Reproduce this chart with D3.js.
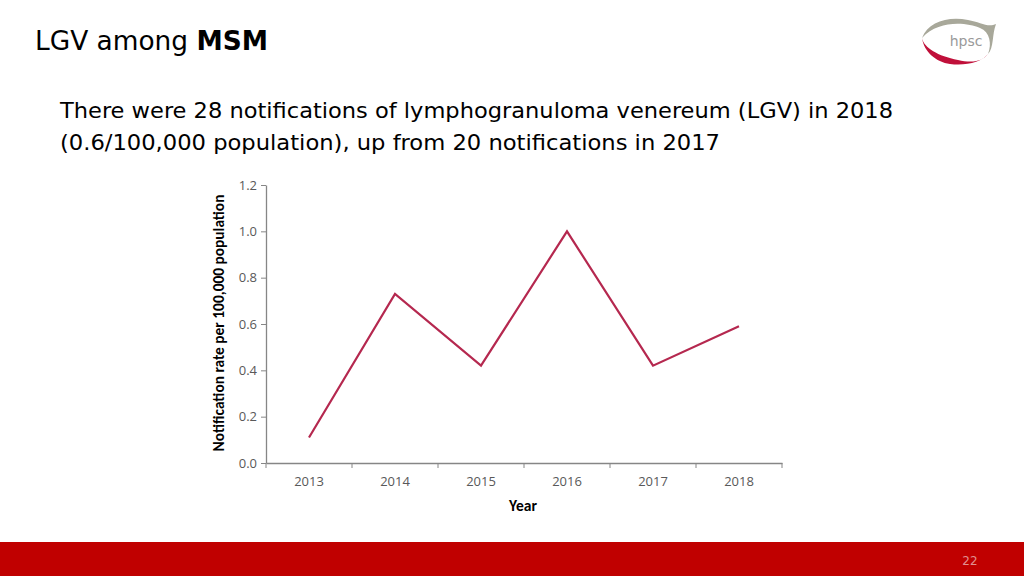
<!DOCTYPE html>
<html><head><meta charset="utf-8">
<script src="https://cdn.jsdelivr.net/npm/d3@7"></script>
<style>body{margin:0;background:#fff}svg{display:block}</style>
</head><body>
<svg id="c" width="1024" height="576"></svg>
<script>
const years = ["2013","2014","2015","2016","2017","2018"];
const rates = [0.11, 0.73, 0.42, 1.0, 0.42, 0.59];
const yTicks = [0, 0.2, 0.4, 0.6, 0.8, 1.0, 1.2];
const titleParts = ["LGV among ", "MSM"];
const subtitleLines = ["There were 28 notifications of lymphogranuloma venereum (LGV) in 2018",
                       "(0.6/100,000 population), up from 20 notifications in 2017"];
const yTitle = "Notification rate per 100,000 population";
const xTitle = "Year";
const pageNum = "22";

const svg = d3.select("#c");
const W = 1024, H = 576;

// title
const t = svg.append("text").attr("x", 35).attr("y", 50)
  .attr("font-family", "DejaVu Sans Condensed, DejaVu Sans, sans-serif").attr("font-size", 26).attr("fill", "#000");
t.append("tspan").text(titleParts[0]);
t.append("tspan").attr("font-weight", "bold").text(titleParts[1]);
t.attr("textLength", 233).attr("lengthAdjust", "spacingAndGlyphs");

// subtitle
const subW = [833, 660];
subtitleLines.forEach((s, i) => {
  svg.append("text").attr("x", 60).attr("y", 118 + i * 32)
    .attr("font-family", "DejaVu Sans Condensed, DejaVu Sans, sans-serif").attr("font-size", 22)
    .attr("fill", "#000").attr("textLength", subW[i]).attr("lengthAdjust", "spacingAndGlyphs").text(s);
});

// chart
const x = d3.scaleBand().domain(years).range([266, 782]);
const y = d3.scaleLinear().domain([0, 1.2]).range([463, 185]);
const axisColor = "#868686", labelColor = "#595959";
const font = "Carlito, Lato, 'Open Sans', sans-serif";
const tickFont = "'Open Sans', sans-serif";

const ya = svg.append("g").attr("transform", "translate(266,0)")
  .call(d3.axisLeft(y).tickValues(yTicks).tickFormat(d3.format(".1f")).tickSize(5).tickSizeOuter(0));
const xa = svg.append("g").attr("transform", "translate(0,463)")
  .call(d3.axisBottom(x).tickSize(0).tickSizeOuter(0).tickPadding(14));
// x boundary ticks
xa.selectAll(".bt").data(years.concat(["end"])).enter().append("line")
  .attr("x1", (d,i) => 266 + i * x.bandwidth()).attr("x2", (d,i) => 266 + i * x.bandwidth())
  .attr("y1", 0).attr("y2", 5).attr("stroke", axisColor);
[ya, xa].forEach(g => {
  g.selectAll("path.domain").attr("stroke", axisColor).attr("stroke-width", 1.3);
  g.selectAll(".tick line").attr("stroke", axisColor);
  g.selectAll("text").attr("fill", labelColor).attr("font-family", tickFont).attr("font-size", 13);
});
ya.selectAll("text").attr("dx", -1);

// line
const line = d3.line().x((d, i) => x(years[i]) + x.bandwidth() / 2).y(d => y(d));
svg.append("path").datum(rates).attr("d", line).attr("fill", "none")
  .attr("stroke", "#b5284f").attr("stroke-width", 2.2).attr("stroke-linejoin", "miter");

// axis titles
svg.append("text").attr("transform", "translate(224,323) rotate(-90)").attr("text-anchor", "middle")
  .attr("font-family", font).attr("font-size", 15.4).attr("font-weight", "bold").attr("fill", "#000").text(yTitle);
svg.append("text").attr("x", 523).attr("y", 511).attr("text-anchor", "middle")
  .attr("font-family", font).attr("font-size", 15.5).attr("font-weight", "bold").attr("fill", "#000").text(xTitle);

// bottom bar
svg.append("rect").attr("x", 0).attr("y", 542).attr("width", W).attr("height", H - 542).attr("fill", "#c00000");
svg.append("text").attr("x", 970).attr("y", 565).attr("text-anchor", "middle")
  .attr("font-family", "DejaVu Sans, sans-serif").attr("font-size", 12).attr("fill", "#e09090").text(pageNum);

// logo
const lg = svg.append("g").attr("transform", "translate(958,40)");
lg.append("path").attr("d", "M-36,-2 C-30,-18 -10,-24 10,-20 C22,-18 30,-12 38,-16 C34,-6 36,8 30,14 C34,4 32,-8 22,-12 C8,-18 -20,-20 -36,-2 Z")
  .attr("fill", "#a8a89a");
lg.append("path").attr("d", "M-36,-2 C-34,8 -20,16 0,20 C16,24 26,20 30,14 C24,22 8,26 -8,24 C-22,22 -34,12 -36,-2 Z")
  .attr("fill", "#c0103a");
lg.append("text").attr("x", 8).attr("y", 6).attr("text-anchor", "middle")
  .attr("font-family", "DejaVu Sans, sans-serif").attr("font-size", 14).attr("fill", "#9a9a9a").text("hpsc");
</script>
</body></html>
